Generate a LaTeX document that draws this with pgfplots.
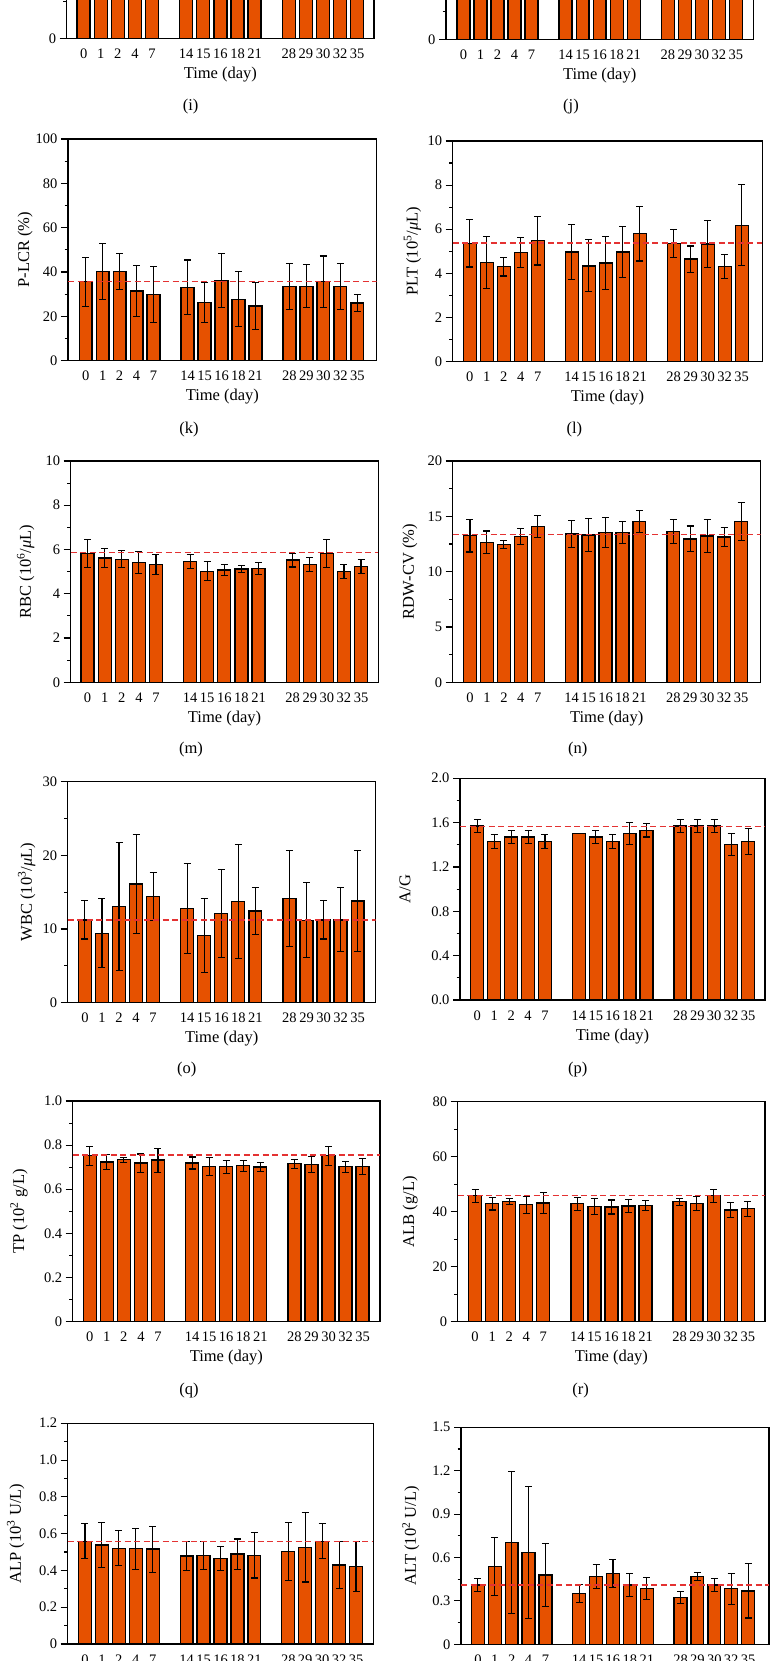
\documentclass[border=0pt]{standalone}
\usepackage{fontspec}
\setmainfont{Liberation Serif}
\usepackage{pgfplots}
\usepackage{pgfplotstable}
\pgfplotsset{compat=1.18}
\definecolor{barc}{RGB}{230,81,0}
\definecolor{refred}{RGB}{228,50,50}

\pgfplotstableread{
x y e
0 10 1
1 10 1
2 10 1
3 10 1
4 10 1
6 10 1
7 10 1
8 10 1
9 10 1
10 10 1
12 10 1
13 10 1
14 10 1
15 10 1
16 10 1
}\tabI
\pgfplotstableread{
x y e
0 14 1
1 14 1
2 14 1
3 14 1
4 14 1
6 14 1
7 14 1
8 14 1
9 14 1
10 14 1
12 14 1
13 14 1
14 14 1
15 14 1
16 14 1
}\tabJ
\pgfplotstableread{
x y e
0 35.6 11.0
1 40.2 12.7
2 40.2 8.1
3 31.4 11.5
4 29.9 12.6
6 33.1 12.3
7 26.2 9.0
8 36.1 12.1
9 27.7 12.4
10 24.7 10.7
12 33.5 10.4
13 33.5 9.7
14 35.6 11.6
15 33.5 10.4
16 26.0 3.9
}\tabK
\pgfplotstableread{
x y e
0 5.36 1.07
1 4.50 1.18
2 4.30 0.42
3 4.94 0.68
4 5.48 1.10
6 4.97 1.23
7 4.34 1.18
8 4.47 1.20
9 4.97 1.15
10 5.80 1.24
12 5.36 0.63
13 4.65 0.59
14 5.33 1.08
15 4.30 0.54
16 6.18 1.83
}\tabL
\pgfplotstableread{
x y e
0 5.82 0.63
1 5.62 0.43
2 5.56 0.39
3 5.40 0.50
4 5.31 0.46
6 5.46 0.31
7 5.02 0.43
8 5.07 0.24
9 5.12 0.17
10 5.14 0.29
12 5.52 0.31
13 5.32 0.33
14 5.82 0.64
15 5.00 0.33
16 5.22 0.31
}\tabM
\pgfplotstableread{
x y e
0 13.25 1.48
1 12.65 1.02
2 12.47 0.38
3 13.19 0.73
4 14.07 1.02
6 13.40 1.25
7 13.31 1.50
8 13.55 1.36
9 13.55 1.02
10 14.52 0.98
12 13.64 1.10
13 12.95 1.17
14 13.22 1.46
15 13.13 0.87
16 14.55 1.73
}\tabN
\pgfplotstableread{
x y e
0 11.24 2.6
1 9.42 4.7
2 13.1 8.7
3 16.13 6.75
4 14.4 3.3
6 12.78 6.07
7 9.1 5.0
8 12.1 5.95
9 13.73 7.7
10 12.46 3.2
12 14.14 6.57
13 11.2 5.1
14 11.24 2.6
15 11.24 4.35
16 13.8 6.9
}\tabO
\pgfplotstableread{
x y e
0 1.57 0.06
1 1.43 0.066
2 1.47 0.06
3 1.47 0.06
4 1.43 0.06
6 1.50 0
7 1.47 0.06
8 1.43 0.066
9 1.50 0.10
10 1.53 0.06
12 1.57 0.06
13 1.57 0.06
14 1.57 0.06
15 1.40 0.10
16 1.43 0.116
}\tabP
\pgfplotstableread{
x y e
0 0.752 0.043
1 0.723 0.034
2 0.734 0.011
3 0.719 0.041
4 0.732 0.054
6 0.719 0.027
7 0.704 0.040
8 0.702 0.030
9 0.707 0.025
10 0.701 0.022
12 0.716 0.020
13 0.711 0.037
14 0.752 0.043
15 0.702 0.025
16 0.704 0.036
}\tabQ
\pgfplotstableread{
x y e
0 45.8 2.4
1 42.9 2.3
2 43.8 1.15
3 42.5 3.05
4 43.2 3.9
6 42.9 2.35
7 41.8 2.9
8 41.7 2.55
9 42.1 2.3
10 42.2 1.8
12 43.6 1.35
13 43.0 2.45
14 45.8 2.4
15 40.6 2.6
16 41.1 2.7
}\tabR
\pgfplotstableread{
x y e
0 0.559 0.096
1 0.538 0.121
2 0.521 0.096
3 0.518 0.111
4 0.516 0.125
6 0.478 0.080
7 0.482 0.076
8 0.466 0.066
9 0.489 0.082
10 0.482 0.123
12 0.503 0.158
13 0.525 0.188
14 0.559 0.096
15 0.429 0.127
16 0.422 0.136
}\tabS
\pgfplotstableread{
x y e
0 0.410 0.043
1 0.537 0.200
2 0.703 0.490
3 0.634 0.455
4 0.479 0.220
6 0.350 0.062
7 0.468 0.082
8 0.488 0.097
9 0.410 0.081
10 0.387 0.077
12 0.325 0.043
13 0.468 0.029
14 0.410 0.043
15 0.385 0.107
16 0.369 0.187
}\tabT

\newcommand{\ticksz}{\fontsize{14.5bp}{17bp}\selectfont}
\newcommand{\labsz}{\fontsize{16.5bp}{19bp}\selectfont}

\pgfplotsset{
  pan/.style={
    scale only axis,
    axis line style={line width=1.3bp},
    xtick={0,1,2,3,4,6,7,8,9,10,12,13,14,15,16},
    xticklabels={0,1,2,4,7,14,15,16,18,21,28,29,30,32,35},
    x tick style={draw=none},
    ytick pos=left,
    tick align=outside,
    major tick length=7bp,
    minor tick length=3.5bp,
    minor y tick num=1,
    y tick style={line width=1.1bp, black},
    tick label style={font=\ticksz},
    label style={font=\labsz},
    xlabel={Time (day)},
    xlabel style={at={(axis description cs:0.5,-0.163)}, anchor=center},
    ymin=0,
    /pgf/number format/assume math mode=true,
    bar width=0.76,
  },
  bars/.style={ybar, fill=barc, draw=black, line width=1.3bp,
    error bars/.cd, y dir=both, y explicit,
    error mark=-,
    error bar style={line width=1.1bp, black, solid},
    error mark options={rotate=90, line width=1.1bp, mark size=3.5bp, black, solid}},
  refl/.style={sharp plot, refred, dash pattern=on 6bp off 3.5bp, line width=1.4bp},
}

\begin{document}
\begin{tikzpicture}[x=1bp,y=1bp]
\useasboundingbox (0,0) rectangle (770,1661);
\clip (0,0) rectangle (770,1661);

% (i)
\begin{axis}[pan, at={(66.7bp,1622.7bp)}, width=307.3bp, height=221bp,
  xmin=-0.99, xmax=16.98, ymax=15, ytick={0}, minor ytick={2.5}]
\addplot[bars] table[x=x,y=y,y error=e]{\tabI};
\end{axis}
\node[font=\labsz] at (190.7,1554) {(i)};

% (j)
\begin{axis}[pan, at={(446bp,1621.7bp)}, width=307.3bp, height=221bp,
  xmin=-1.02, xmax=17.02, ymax=20, ytick={0}, minor ytick={2.5}]
\addplot[bars] table[x=x,y=y,y error=e]{\tabJ};
\end{axis}
\node[font=\labsz] at (571,1554.3) {(j)};

% (k)
\begin{axis}[pan, at={(68bp,1300.3bp)}, width=308.7bp, height=221.7bp,
  xmin=-1.04, xmax=17.14, ymax=100, ytick={0,20,40,60,80,100},
  ylabel={P-LCR (\%)}, ylabel style={at={(axis description cs:-0.139,0.5)}, anchor=center}]
\addplot[bars] table[x=x,y=y,y error=e]{\tabK};
\addplot[refl] coordinates {(-1.04,35.6) (17.14,35.6)};
\end{axis}
\node[font=\labsz] at (189,1231) {(k)};

% (l)
\begin{axis}[pan, at={(452.7bp,1299.3bp)}, width=309.6bp, height=220.7bp,
  xmin=-1.0, xmax=17.21, ymax=10, ytick={0,2,4,6,8,10},
  ylabel={PLT (10\textsuperscript{5}/\textit{μ}L)}, ylabel style={at={(axis description cs:-0.13,0.5)}, anchor=center}]
\addplot[bars] table[x=x,y=y,y error=e]{\tabL};
\addplot[refl] coordinates {(-1.0,5.38) (17.21,5.38)};
\end{axis}
\node[font=\labsz] at (574.3,1231) {(l)};

% (m)
\begin{axis}[pan, at={(70.7bp,978.7bp)}, width=307.6bp, height=221.3bp,
  xmin=-0.99, xmax=17.01, ymax=10, ytick={0,2,4,6,8,10},
  ylabel={RBC (10\textsuperscript{6}/\textit{μ}L)}, ylabel style={at={(axis description cs:-0.146,0.5)}, anchor=center}]
\addplot[bars] table[x=x,y=y,y error=e]{\tabM};
\addplot[refl] coordinates {(-0.99,5.86) (17.01,5.86)};
\end{axis}
\node[font=\labsz] at (191,911.7) {(m)};

% (n)
\begin{axis}[pan, at={(452.7bp,978.7bp)}, width=308bp, height=221.3bp,
  xmin=-1.02, xmax=17.16, ymax=20, ytick={0,5,10,15,20},
  ylabel={RDW-CV (\%)}, ylabel style={at={(axis description cs:-0.139,0.5)}, anchor=center}]
\addplot[bars] table[x=x,y=y,y error=e]{\tabN};
\addplot[refl] coordinates {(-1.02,13.34) (17.16,13.34)};
\end{axis}
\node[font=\labsz] at (577.7,911.7) {(n)};

% (o)
\begin{axis}[pan, at={(67.7bp,658.3bp)}, width=308bp, height=221bp,
  xmin=-1.01, xmax=17.06, ymax=30, ytick={0,10,20,30},
  ylabel={WBC (10\textsuperscript{3}/\textit{μ}L)}, ylabel style={at={(axis description cs:-0.133,0.5)}, anchor=center}]
\addplot[bars] table[x=x,y=y,y error=e]{\tabO};
\addplot[refl] coordinates {(-1.01,11.24) (17.06,11.24)};
\end{axis}
\node[font=\labsz] at (186.7,591) {(o)};

% (p)
\begin{axis}[pan, at={(460bp,661bp)}, width=305bp, height=221.7bp,
  xmin=-1.02, xmax=17.0, ymax=2, ytick={0,0.4,0.8,1.2,1.6,2.0},
  yticklabels={0.0,0.4,0.8,1.2,1.6,2.0},
  ylabel={A/G}, ylabel style={at={(axis description cs:-0.18,0.5)}, anchor=center}]
\addplot[bars] table[x=x,y=y,y error=e]{\tabP};
\addplot[refl] coordinates {(-1.02,1.565) (17.0,1.565)};
\end{axis}
\node[font=\labsz] at (577.7,591) {(p)};

% (q)
\begin{axis}[pan, at={(72.7bp,339.3bp)}, width=307.3bp, height=220.7bp,
  xmin=-1.0, xmax=17.02, ymax=1, ytick={0,0.2,0.4,0.6,0.8,1.0},
  yticklabels={0,0.2,0.4,0.6,0.8,1.0},
  ylabel={TP (10\textsuperscript{2} g/L)}, ylabel style={at={(axis description cs:-0.175,0.5)}, anchor=center}]
\addplot[bars] table[x=x,y=y,y error=e]{\tabQ};
\addplot[refl] coordinates {(-1.0,0.756) (17.02,0.756)};
\end{axis}
\node[font=\labsz] at (189,270) {(q)};

% (r)
\begin{axis}[pan, at={(457.7bp,339.3bp)}, width=307.3bp, height=220bp,
  xmin=-1.02, xmax=17.01, ymax=80, ytick={0,20,40,60,80},
  ylabel={ALB (g/L)}, ylabel style={at={(axis description cs:-0.155,0.5)}, anchor=center}]
\addplot[bars] table[x=x,y=y,y error=e]{\tabR};
\addplot[refl] coordinates {(-1.02,45.8) (17.01,45.8)};
\end{axis}
\node[font=\labsz] at (580.7,270) {(r)};

% (s)
\begin{axis}[pan, at={(67.7bp,17bp)}, width=305.6bp, height=220.7bp,
  xmin=-1.02, xmax=17.02, ymax=1.2, ytick={0,0.2,0.4,0.6,0.8,1.0,1.2},
  yticklabels={0,0.2,0.4,0.6,0.8,1.0,1.2},
  ylabel={ALP (10\textsuperscript{3} U/L)}, ylabel style={at={(axis description cs:-0.17,0.5)}, anchor=center}]
\addplot[bars] table[x=x,y=y,y error=e]{\tabS};
\addplot[refl] coordinates {(-1.02,0.558) (17.02,0.558)};
\end{axis}

% (t)
\begin{axis}[pan, at={(461bp,16.7bp)}, width=308bp, height=217bp,
  xmin=-1.0, xmax=17.24, ymax=1.5, ytick={0,0.3,0.6,0.9,1.2,1.5},
  yticklabels={0,0.3,0.6,0.9,1.2,1.5},
  ylabel={ALT (10\textsuperscript{2} U/L)}, ylabel style={at={(axis description cs:-0.163,0.5)}, anchor=center}]
\addplot[bars] table[x=x,y=y,y error=e]{\tabT};
\addplot[refl] coordinates {(-1.0,0.41) (17.24,0.41)};
\end{axis}
\end{tikzpicture}
\end{document}
